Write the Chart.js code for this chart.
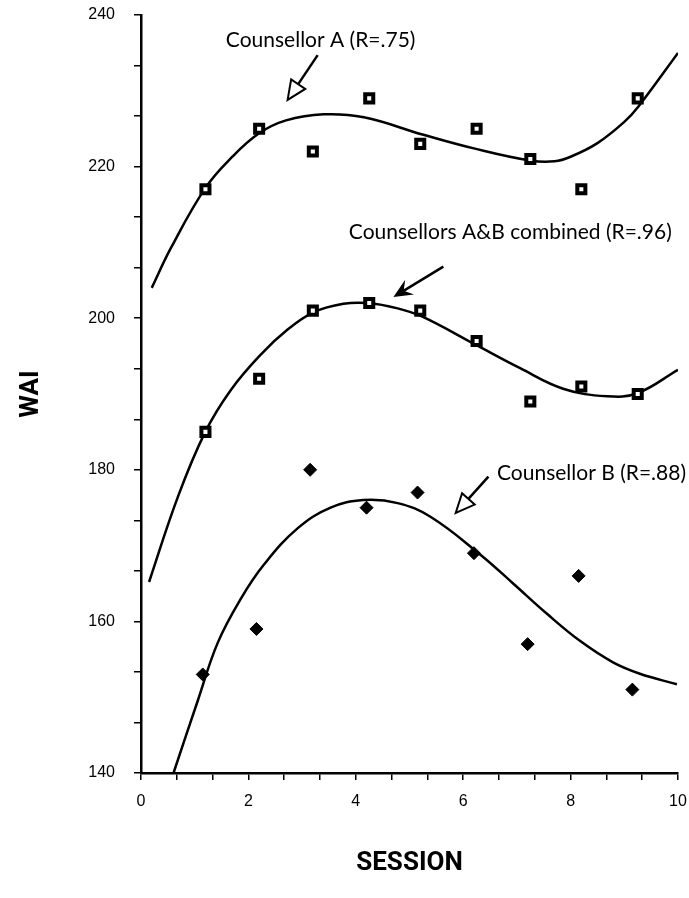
<!DOCTYPE html>
<html>
<head>
<meta charset="utf-8">
<script src="https://cdn.jsdelivr.net/npm/chart.js@4.4.0/dist/chart.umd.min.js"></script>
<style>
  html, body { margin: 0; padding: 0; background: #fff; }
  canvas { display: block; }
</style>
</head>
<body>
<canvas id="waiChart" width="689" height="898"></canvas>
<script>
// observed WAI scores by session
const sessionA = [1.2, 2.2, 3.2, 4.25, 5.2, 6.25, 7.25, 8.2, 9.25];
const waiA = [217, 225, 222, 229, 223, 225, 221, 217, 229];
const sessionAB = [1.2, 2.2, 3.2, 4.25, 5.2, 6.25, 7.25, 8.2, 9.25];
const waiAB = [185, 192, 201, 202, 201, 197, 189, 191, 190];
const sessionB = [1.15, 2.15, 3.15, 4.2, 5.15, 6.2, 7.2, 8.15, 9.15];
const waiB = [153, 159, 180, 175, 177, 169, 157, 166, 151];

// fitted curves
const fitAx = [0.2, 0.56, 1.2, 1.7, 2.2, 2.7, 3.4, 4.15, 5.26, 6.2, 7.25, 7.7, 8.0, 8.5, 9.0, 9.26, 10];
const fitAy = [204, 209.3, 217.2, 221.3, 224.4, 226.1, 226.9, 226.5, 224.2, 222.4, 220.8, 220.7, 221.3, 223.1, 225.9, 227.9, 235];
const fitABx = [0.15, 0.68, 1.19, 1.67, 2.23, 2.73, 3.22, 3.77, 4.22, 4.78, 5.24, 6.23, 7.06, 7.86, 8.68, 9.24, 10];
const fitABy = [165.2, 176.3, 184.9, 190.5, 195.2, 198.5, 200.8, 201.9, 202.0, 201.3, 200.2, 196.5, 193.4, 190.7, 189.7, 190.1, 193.2];
const fitBx = [0.61, 1.06, 1.43, 1.86, 2.29, 2.92, 3.53, 4.14, 4.78, 5.39, 6.32, 6.93, 7.56, 8.18, 8.79, 9.29, 9.98];
const fitBy = [140.1, 149.6, 157.2, 163.0, 167.5, 172.3, 175.0, 176.0, 175.6, 173.8, 168.8, 165.0, 161.0, 157.4, 154.6, 153.1, 151.7];

const xTicks = [0, 2, 4, 6, 8, 10];
const yTicks = [140, 160, 180, 200, 220, 240];

// labels + arrows, in data units: [text x, text y, tail x, tail y, tip x, tip y, hollow head]
const notes = [
    ['Counsellor A (R=.75)', 1.58, 236.7, 3.29, 234.7, 2.73, 228.8, true],
    ['Counsellors A&B combined (R=.96)', 3.87, 211.4, 5.63, 206.8, 4.70, 202.8, false],
    ['Counsellor B (R=.88)', 6.63, 179.6, 6.47, 179.1, 5.86, 174.3, true]
];

const pts = (xs, ys) => xs.map((x, i) => ({ x: x, y: ys[i] }));

// major ticks with unlabelled minor ticks between each pair
function withMinor(majors, parts) {
    const out = [];
    for (let i = 0; i < majors.length; i++) {
        out.push({ value: majors[i], labelled: true });
        if (i < majors.length - 1) {
            const step = (majors[i + 1] - majors[i]) / parts;
            for (let j = 1; j < parts; j++) out.push({ value: majors[i] + j * step, labelled: false });
        }
    }
    return out;
}

const annotate = {
    id: 'annotate',
    afterDatasetsDraw(chart) {
        const { ctx, scales: { x, y } } = chart;
        ctx.save();
        ctx.fillStyle = '#000';
        ctx.strokeStyle = '#000';
        ctx.font = '21px Lato';
        ctx.textBaseline = 'middle';
        ctx.textAlign = 'left';
        notes.forEach(n => {
            ctx.fillText(n[0], x.getPixelForValue(n[1]), y.getPixelForValue(n[2]));
            const x0 = x.getPixelForValue(n[3]), y0 = y.getPixelForValue(n[4]);
            const x1 = x.getPixelForValue(n[5]), y1 = y.getPixelForValue(n[6]);
            const ang = Math.atan2(y1 - y0, x1 - x0);
            const cos = Math.cos(ang), sin = Math.sin(ang);
            const len = 19, half = 8.5;
            const bx = x1 - len * cos, by = y1 - len * sin;
            const px = -sin * half, py = cos * half;
            ctx.lineWidth = 2.5;
            ctx.beginPath();
            ctx.moveTo(x0, y0);
            if (n[7]) ctx.lineTo(bx, by); else ctx.lineTo(x1 - 8 * cos, y1 - 8 * sin);
            ctx.stroke();
            ctx.beginPath();
            ctx.moveTo(x1, y1);
            ctx.lineTo(bx + px, by + py);
            if (!n[7]) ctx.lineTo(x1 - 12 * cos, y1 - 12 * sin);
            ctx.lineTo(bx - px, by - py);
            ctx.closePath();
            if (n[7]) {
                ctx.fillStyle = '#fff';
                ctx.fill();
                ctx.lineWidth = 2;
                ctx.stroke();
                ctx.fillStyle = '#000';
            } else {
                ctx.fill();
            }
        });
        ctx.restore();
    }
};

const curve = data => ({
    type: 'line', data: data, order: 2,
    borderColor: '#000', borderWidth: 2.5,
    pointRadius: 0, tension: 0.4, fill: false
});
const marks = (data, style) => ({
    type: 'scatter', data: data, order: 1, showLine: false,
    pointStyle: style,
    pointRadius: style === 'rect' ? 5.7 : 6.5,
    pointBorderWidth: style === 'rect' ? 4 : 1,
    pointBackgroundColor: style === 'rect' ? '#fff' : '#000',
    pointBorderColor: '#000'
});

const tickFont = { family: 'Liberation Sans', size: 16 };
const noPadX = s => { s.paddingLeft = 0; s.paddingRight = 0; };
const noPadY = s => { s.paddingTop = 0; s.paddingBottom = 0; };

new Chart(document.getElementById('waiChart'), {
    type: 'scatter',
    data: {
        datasets: [
            marks(pts(sessionA, waiA), 'rect'),
            marks(pts(sessionAB, waiAB), 'rect'),
            marks(pts(sessionB, waiB), 'rectRot'),
            curve(pts(fitAx, fitAy)),
            curve(pts(fitABx, fitABy)),
            curve(pts(fitBx, fitBy))
        ]
    },
    options: {
        responsive: false,
        animation: false,
        layout: { padding: { top: 15, right: 11, left: 0, bottom: 0 } },
        plugins: { legend: { display: false }, tooltip: { enabled: false } },
        scales: {
            x: {
                type: 'linear', min: 0, max: 10,
                afterBuildTicks: s => { s.ticks = withMinor(xTicks, 3); },
                afterFit: s => { s.height = 125; noPadX(s); },
                ticks: {
                    autoSkip: false, maxRotation: 0, padding: 12, color: '#000', font: tickFont,
                    callback: (v, i, t) => t[i].labelled ? String(v) : ''
                },
                grid: { drawOnChartArea: false, drawTicks: true, tickLength: 7, color: '#000', lineWidth: 1.5 },
                border: { color: '#000', width: 2.5 },
                title: {
                    display: true, text: 'SESSION', color: '#000',
                    font: { family: 'Roboto', weight: 'bold', size: 26 },
                    padding: { top: 0, bottom: 19 }
                }
            },
            y: {
                min: 140, max: 240,
                afterBuildTicks: s => { s.ticks = withMinor(yTicks, 3); },
                afterFit: s => { s.width = 141; noPadY(s); },
                ticks: {
                    autoSkip: false, padding: 19, color: '#000', font: tickFont,
                    callback: (v, i, t) => t[i].labelled ? String(v) : ''
                },
                grid: { drawOnChartArea: false, drawTicks: true, tickLength: 7, color: '#000', lineWidth: 1.5 },
                border: { color: '#000', width: 2.5 },
                title: {
                    display: true, text: 'WAI', color: '#000',
                    font: { family: 'Roboto', weight: 'bold', size: 26 },
                    padding: { top: 16, bottom: 0 }
                }
            }
        }
    },
    plugins: [annotate]
});
</script>
</body>
</html>
